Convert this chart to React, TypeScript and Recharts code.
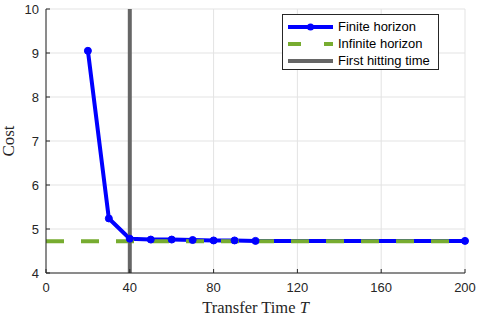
import React from 'react';
import {
  ComposedChart,
  Line,
  XAxis,
  YAxis,
  CartesianGrid,
  ReferenceLine,
  Legend,
  Label,
} from 'recharts';

// finite horizon cost vs transfer time
const transferTimes = [20, 30, 40, 50, 60, 70, 80, 90, 100, 200];
const finiteCost = [9.05, 5.24, 4.78, 4.76, 4.76, 4.75, 4.74, 4.74, 4.73, 4.73];
const infiniteCost = 4.72;
const hittingTime = 40;

const xTicks = [0, 40, 80, 120, 160, 200];
const yTicks = [4, 5, 6, 7, 8, 9, 10];

const BLUE = '#0000ff';
const GREEN = '#77ac30';
const GRAY = '#666666';
const AXIS = '#262626';
const TICK_FONT = '"Liberation Sans", Arial, sans-serif';
const LABEL_FONT = '"Liberation Serif", "DejaVu Serif", serif';

const data = transferTimes.map((t, i) => ({ t, cost: finiteCost[i] }));

const NoTick = () => null;

const CustomLegend = () => {
  const rows = [
    { name: 'Finite horizon', kind: 'finite' },
    { name: 'Infinite horizon', kind: 'infinite' },
    { name: 'First hitting time', kind: 'hitting' },
  ];
  return (
    <div
      style={{
        width: 157,
        height: 56,
        border: `1px solid ${AXIS}`,
        background: '#fff',
        boxSizing: 'border-box',
        padding: '3px 0 0 5px',
      }}
    >
      {rows.map((r) => (
        <div key={r.name} style={{ display: 'flex', alignItems: 'center', height: 17 }}>
          <svg width={46} height={10} style={{ marginRight: 4 }}>
            {r.kind === 'finite' && (
              <g>
                <line x1={0} y1={5} x2={45} y2={5} stroke={BLUE} strokeWidth={4} />
                <circle cx={22.5} cy={5} r={3.5} fill={BLUE} />
              </g>
            )}
            {r.kind === 'infinite' && (
              <g>
                <line x1={0} y1={5} x2={13} y2={5} stroke={GREEN} strokeWidth={4} />
                <line x1={36} y1={5} x2={45} y2={5} stroke={GREEN} strokeWidth={4} />
              </g>
            )}
            {r.kind === 'hitting' && (
              <line x1={0} y1={5} x2={45} y2={5} stroke={GRAY} strokeWidth={4} />
            )}
          </svg>
          <span style={{ fontFamily: TICK_FONT, fontSize: 13, color: '#000', whiteSpace: 'nowrap' }}>
            {r.name}
          </span>
        </div>
      ))}
    </div>
  );
};

const XLabel = ({ viewBox }: any) => {
  const cx = viewBox.x + viewBox.width / 2;
  return (
    <text x={cx} y={313} textAnchor="middle" fontFamily={LABEL_FONT} fontSize={16.5} fill={AXIS}>
      Transfer Time <tspan fontStyle="italic">T</tspan>
    </text>
  );
};

const YLabel = ({ viewBox }: any) => {
  const cy = viewBox.y + viewBox.height / 2;
  return (
    <text
      x={14}
      y={cy}
      textAnchor="middle"
      transform={`rotate(-90, 14, ${cy})`}
      fontFamily={LABEL_FONT}
      fontSize={17}
      fill={AXIS}
    >
      Cost
    </text>
  );
};

const App: React.FC = () => {
  return (
    <div style={{ position: 'absolute', left: 0, top: 0, width: 478, height: 319, background: '#fff' }}>
      <ComposedChart
        width={478}
        height={319}
        data={data}
        margin={{ top: 9, right: 13, bottom: 0, left: 0 }}
      >
        <CartesianGrid stroke="#e3e3e3" strokeWidth={1} />
        <XAxis
          dataKey="t"
          type="number"
          domain={[0, 200]}
          ticks={xTicks}
          height={46}
          stroke={AXIS}
          tickSize={-4}
          tickMargin={14}
          tick={{ fill: AXIS, fontSize: 13, fontFamily: TICK_FONT }}
        >
          <Label content={<XLabel />} />
        </XAxis>
        <XAxis
          xAxisId="top"
          orientation="top"
          type="number"
          domain={[0, 200]}
          ticks={xTicks}
          height={0}
          stroke={AXIS}
          tickSize={-4}
          tick={NoTick}
        />
        <YAxis
          type="number"
          domain={[4, 10]}
          ticks={yTicks}
          width={46}
          stroke={AXIS}
          tickSize={-4}
          tickMargin={11}
          tick={{ fill: AXIS, fontSize: 13, fontFamily: TICK_FONT }}
        >
          <Label content={<YLabel />} />
        </YAxis>
        <YAxis
          yAxisId="right"
          orientation="right"
          type="number"
          domain={[4, 10]}
          ticks={yTicks}
          width={0}
          stroke={AXIS}
          tickSize={-4}
          tick={NoTick}
        />
        <Line
          dataKey="cost"
          type="linear"
          stroke={BLUE}
          strokeWidth={4}
          dot={{ r: 3.5, fill: BLUE, stroke: BLUE, strokeWidth: 1 }}
          isAnimationActive={false}
        />
        <ReferenceLine y={infiniteCost} stroke={GREEN} strokeWidth={4} strokeDasharray="18 17" />
        <ReferenceLine x={hittingTime} stroke={GRAY} strokeWidth={4} />
        <Legend
          layout="vertical"
          align="center"
          verticalAlign="middle"
          content={<CustomLegend />}
          wrapperStyle={{ top: 14, left: 282, width: 157, right: 'auto', bottom: 'auto' }}
        />
      </ComposedChart>
    </div>
  );
};

export default App;
